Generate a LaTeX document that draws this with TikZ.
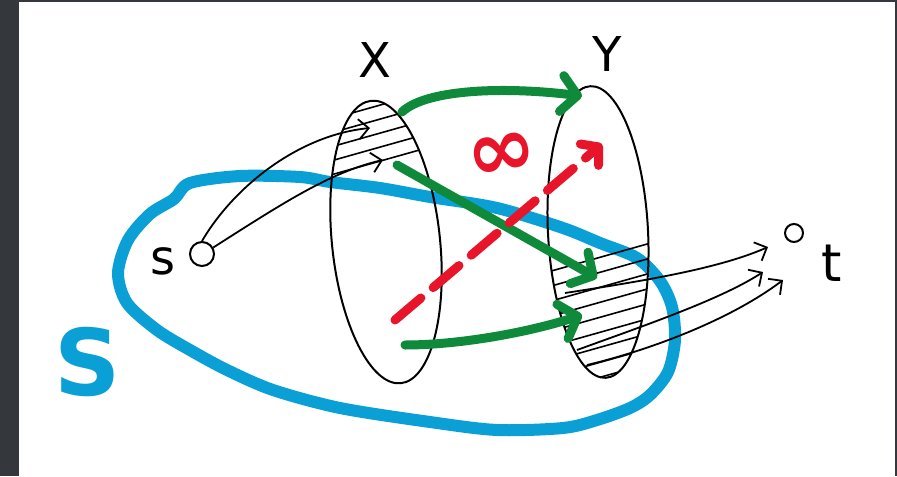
\documentclass[tikz,border=0pt]{standalone}
\usepackage{fontspec}
\setmainfont{DejaVu Sans}
\usetikzlibrary{arrows.meta,shapes.geometric}
\definecolor{cutblue}{HTML}{0AA0D6}
\definecolor{flowgreen}{HTML}{0E8A3A}
\definecolor{infred}{HTML}{E8142A}
\definecolor{framegray}{HTML}{34373C}

\begin{document}
\begin{tikzpicture}[x=0.5pt, y=-0.5pt,
  setnode/.style={draw=black, line width=1pt, ellipse, inner sep=0pt},
  vertex/.style={draw=black, line width=1pt, circle, inner sep=0pt},
  hatch/.style={black, line width=0.8pt},
  thinarrow/.style={black, line width=0.9pt, -{Straight Barb[length=5pt,width=10pt]}},
  flow/.style={flowgreen, line width=4.5pt, line cap=round, -{Straight Barb[round,length=8pt,width=18pt]}},
  infedge/.style={infred, line width=4.5pt, line cap=round, dash pattern=on 17pt off 8pt, -{Straight Barb[round,length=6pt,width=14pt]}},
  cutline/.style={cutblue, line width=6pt},
  handlabel/.style={inner sep=0pt, font=\fontsize{24pt}{24pt}\selectfont}]
  % frame
  \fill[framegray] (0,0) rectangle (897,476);
  \fill[white] (19,2) rectangle (895,476);
  % the cut S
  \draw[cutline] plot[smooth cycle] coordinates {(190,183) (240,176) (300,177) (330,182) (380,188)
    (430,197) (497,208) (563,228) (600,243) (637,258) (660,281) (672,307) (675,340) (668,372)
    (650,395) (630,408) (597,420) (563,428) (497,430) (430,422) (340,408) (273,390) (227,370)
    (190,350) (157,330) (127,303) (118,273) (128,240) (150,214) (174,199)};
  \node[text=cutblue, inner sep=0pt, font=\bfseries\fontsize{46pt}{46pt}\selectfont] (cutlab) at (88,362) {S};
  % sets X and Y
  \node[setnode, minimum width=54pt, minimum height=142pt, rotate=6] (X) at (386,242) {};
  \node[setnode, minimum width=50pt, minimum height=146pt, rotate=3] (Y) at (598,232) {};
  \node[handlabel] (xlab) at (375,60) {X};
  \node[handlabel] (ylab) at (607,54) {Y};
  % hatching
  \begin{scope}
    \clip[rotate around={6:(386,242)}] (386,242) ellipse [x radius=27pt, y radius=71pt];
    \foreach \k in {-1,...,4}
      \draw[hatch] (320,122+14*\k) -- (455,84+14*\k);
  \end{scope}
  \begin{scope}
    \clip[rotate around={3:(598,232)}] (598,232) ellipse [x radius=25pt, y radius=73pt];
    \foreach \k in {-1,...,7}
      \draw[hatch] (530,292+15*\k) -- (665,254+15*\k);
  \end{scope}
  % source and sink
  \node[vertex, minimum size=12pt] (s) at (202,254) {};
  \node[vertex, minimum size=9pt] (t) at (794,233) {};
  \node[handlabel] (slab) at (163,261) {s};
  \node[handlabel, font=\fontsize{26pt}{26pt}\selectfont] (tlab) at (832,263) {t};
  % end points inside the sets
  \coordinate (xin1) at (370,128);
  \coordinate (xin2) at (383,160);
  \coordinate (xg1) at (402,112);
  \coordinate (yg1) at (582,96);
  \coordinate (xg2) at (397,165);
  \coordinate (yg2) at (597,278);
  \coordinate (xg3) at (405,345);
  \coordinate (yg3) at (582,315);
  \coordinate (xr) at (395,320);
  \coordinate (yr) at (602,144);
  \coordinate (yo1) at (565,293);
  \coordinate (ti1) at (768,247);
  \coordinate (yo2) at (577,350);
  \coordinate (ti2) at (763,272);
  \coordinate (yo3) at (587,365);
  \coordinate (ti3) at (783,280);
  % s to X
  \draw[thinarrow] (s.north) .. controls (235,185) and (300,135) .. (xin1);
  \draw[thinarrow] (s.30) .. controls (280,205) and (330,172) .. (xin2);
  % Y to t
  \draw[thinarrow] (yo1) .. controls (650,280) and (720,268) .. (ti1);
  \draw[thinarrow] (yo2) .. controls (640,327) and (720,300) .. (ti2);
  \draw[thinarrow] (yo3) .. controls (650,350) and (730,320) .. (ti3);
  % flow from X to Y
  \draw[flow] (xg1) .. controls (425,90) and (500,86) .. (yg1);
  \draw[flow] (xg2) -- (yg2);
  \draw[flow] (xg3) .. controls (460,345) and (530,332) .. (yg3);
  % infinite edge
  \draw[infedge] (xr) -- (yr);
  \node[text=infred, inner sep=0pt, rotate=10, font=\bfseries\fontsize{42pt}{42pt}\selectfont] (inflab) at (502,157) {∞};
\end{tikzpicture}
\end{document}
